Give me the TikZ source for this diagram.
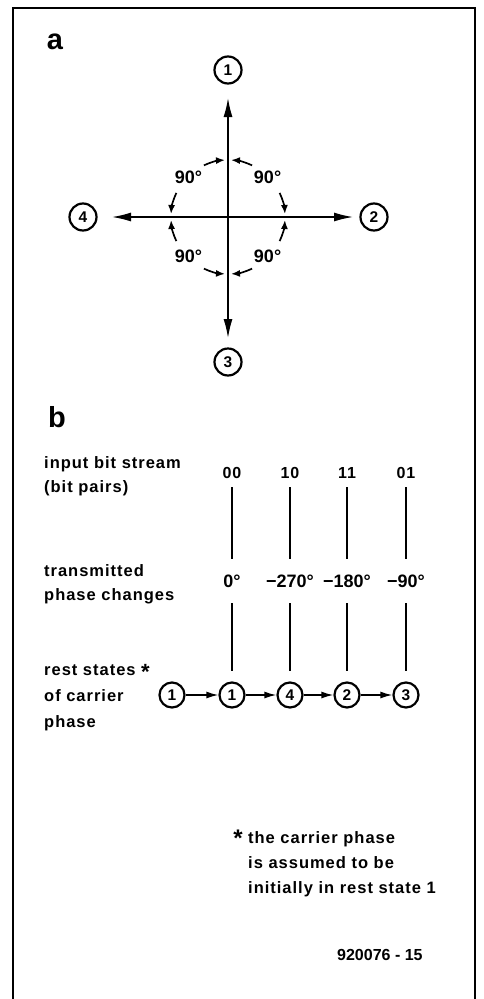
\documentclass[tikz,border=0pt]{standalone}
\usepackage{fontspec}
\setmainfont{Liberation Sans}
\newfontfamily\spaced{Liberation Sans}[LetterSpace=6]
\usetikzlibrary{arrows.meta}
\tikzset{
  boxline/.style={line width=1.3pt},
  panel/.style={inner sep=0pt, font=\bfseries\fontsize{29}{30}\selectfont},
  state/.style={circle, draw, line width=2.2pt, minimum size=25pt, inner sep=0pt, font=\bfseries\fontsize{15.5}{15}\selectfont},
  axis/.style={line width=1.5pt, -{Latex[length=19pt, width=9pt]}},
  turn/.style={line width=1.7pt, -{Latex[length=9pt, width=7pt]}},
  hop/.style={line width=1.5pt, -{Latex[length=12pt, width=7pt]}},
  bar/.style={line width=1.6pt},
  caption/.style={inner sep=0pt, align=left, font=\spaced\bfseries\fontsize{16.5}{24}\selectfont},
  bits/.style={inner sep=0pt, font=\spaced\bfseries\fontsize{16}{18}\selectfont},
  phase/.style={inner sep=0pt, font=\bfseries\fontsize{18}{20}\selectfont},
  angle/.style={inner sep=0pt, font=\bfseries\fontsize{18}{18}\selectfont},
  star/.style={inner sep=0pt, font=\bfseries\fontsize{24}{24}\selectfont}
}
\begin{document}
\begin{tikzpicture}[x=1pt, y=1pt]
  \useasboundingbox (0,0) rectangle (484,-999);
  \draw[boxline] (13,-999) |- (475,-8) -- (475,-999);

  % a: phase states
  \node[panel] (pa) at (55,-42) {a};
  \coordinate (O) at (228,-217);
  \node[state, minimum size=27pt] (a1) at (228,-70) {1};
  \node[state, minimum size=27pt] (a2) at (374,-217) {2};
  \node[state, minimum size=27pt] (a3) at (228,-362) {3};
  \node[state, minimum size=27pt] (a4) at (83,-217) {4};
  \coordinate (t1) at (228,-98);
  \coordinate (t2) at (353,-217);
  \coordinate (t3) at (228,-338);
  \coordinate (t4) at (112,-217);
  \foreach \i in {1,...,4} \draw[axis] (O) -- (t\i);
  \foreach \m in {45,135,225,315} {
    \draw[turn] ([shift={(\m+20:57)}]O) arc[start angle=\m+20, end angle=\m+42, radius=57];
    \draw[turn] ([shift={(\m-20:57)}]O) arc[start angle=\m-20, end angle=\m-42, radius=57];
    \node[angle] (d\m) at ([shift={(\m:56)}]O) {90°};
  }

  % b: coding sequence
  \node[panel] (pb) at (57,-417) {b};
  \node[caption, anchor=base west] (cin) at (44,-492) {input bit stream\\(bit pairs)};
  \node[caption, anchor=base west] (cph) at (44,-600) {transmitted\\phase changes};
  \node[caption, anchor=base west] (crs) at (44,-727) {rest states \raisebox{-4pt}{\fontsize{22}{22}\selectfont*}\\[2pt]of carrier\\[2pt]phase};
  \node[state] (r0) at (172,-695) {1};
  \foreach \x/\b/\p/\n [count=\i] in {232/00/0°/1, 290/10/−270°/4, 347/11/−180°/2, 406/01/−90°/3} {
    \node[bits, anchor=base] (b\i) at (\x,-478) {\b};
    \node[phase, anchor=base] (p\i) at (\x,-587) {\p};
    \node[state] (r\i) at (\x,-695) {\n};
    \draw[bar, shorten <=9pt, shorten >=15pt] (b\i) -- (p\i);
    \draw[bar, shorten <=16pt, shorten >=10pt] (p\i) -- (r\i);
  }
  \draw[hop] (r0) -- (r1);
  \foreach \i [evaluate=\i as \j using int(\i+1)] in {1,2,3} \draw[hop] (r\i) -- (r\j);

  % footnote
  \node[star, anchor=base] (fs) at (238,-846) {*};
  \node[caption, anchor=base west] (fn) at (248,-893) {the carrier phase\\[1pt]is assumed to be\\[1pt]initially in rest state 1};
  \node[inner sep=0pt, anchor=base west, font=\bfseries\fontsize{16}{16}\selectfont] (fig) at (337,-960) {920076 - 15};
\end{tikzpicture}
\end{document}
